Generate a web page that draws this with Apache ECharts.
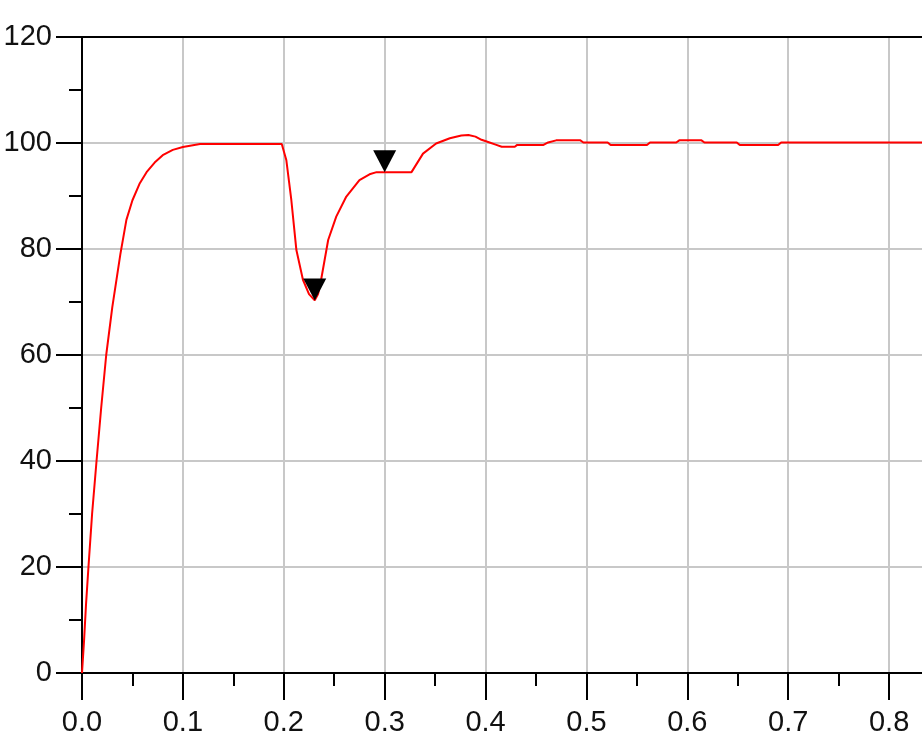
<!DOCTYPE html>
<html><head><meta charset="utf-8">
<script src="https://cdn.jsdelivr.net/npm/echarts@6/dist/echarts.min.js"></script>
<style>html,body{margin:0;padding:0;background:#fff}#c{width:922px;height:742px}</style>
</head><body><div id="c"></div>
<script>
// response curve (time in s, value)
const timeValues = [0, 0.002, 0.004, 0.0064, 0.010, 0.0144, 0.019, 0.024, 0.030, 0.038, 0.044, 0.050, 0.057, 0.064, 0.072, 0.080, 0.090, 0.100, 0.117, 0.198,
  0.2025, 0.2075, 0.2125, 0.219, 0.225, 0.2307, 0.234, 0.237, 0.244, 0.252, 0.262, 0.275, 0.285, 0.292, 0.3266,
  0.338, 0.351, 0.3646, 0.376, 0.383, 0.390, 0.396, 0.404, 0.410, 0.416, 0.429, 0.431, 0.457, 0.462, 0.470, 0.494, 0.497,
  0.521, 0.524, 0.560, 0.563, 0.589, 0.592, 0.614, 0.617, 0.649, 0.652, 0.690, 0.693, 0.90];
const responseValues = [0, 6, 13, 20, 30, 40, 50, 60, 69, 79, 85.5, 89.2, 92.3, 94.5, 96.3, 97.7, 98.7, 99.25, 99.8, 99.8,
  96.8, 89.2, 79.8, 74.2, 71.5, 70.3, 71.5, 74.2, 81.7, 86.1, 89.9, 93.0, 94.1, 94.5, 94.5,
  98.0, 99.9, 100.9, 101.4, 101.5, 101.2, 100.6, 100.1, 99.7, 99.3, 99.3, 99.6, 99.6, 100.1, 100.5, 100.5, 100.1,
  100.1, 99.6, 99.6, 100.1, 100.1, 100.5, 100.5, 100.1, 100.1, 99.6, 99.6, 100.1, 100.1];
// marker points
const markerTimes = [0.2307, 0.300];
const markerValues = [70.3, 94.5];
// axis tick settings
const xTickStep = 0.1;
const yTickStep = 20;

const lineData = timeValues.map((t, i) => [t, responseValues[i]]);
const markerData = markerTimes.map((t, i) => [t, markerValues[i]]);

const labelFont = { fontFamily: 'Liberation Sans', fontSize: 29, color: '#111' };
const chart = echarts.init(document.getElementById('c'), null, { renderer: 'canvas' });
chart.setOption({
  animation: false,
  backgroundColor: '#fff',
  grid: { left: 82, top: 37, width: 908, height: 636, containLabel: false, outerBoundsMode: 'none' },
  xAxis: [{
    type: 'value', min: 0, max: 0.9, interval: xTickStep,
    axisLine: { show: true, onZero: false, lineStyle: { color: '#000', width: 2 } },
    axisTick: { show: true, length: 27, lineStyle: { color: '#000', width: 2 } },
    minorTick: { show: true, splitNumber: 2, length: 13, lineStyle: { color: '#000', width: 2 } },
    splitLine: { show: true, lineStyle: { color: '#c8c8c8', width: 2 } },
    axisLabel: Object.assign({ margin: 35, formatter: v => {
      const k = Math.round(v / xTickStep);
      return Math.abs(v / xTickStep - k) < 1e-6 ? (k * xTickStep).toFixed(1) : '';
    } }, labelFont)
  }, {
    type: 'value', position: 'top', min: 0, max: 0.9,
    axisLine: { show: true, onZero: false, lineStyle: { color: '#000', width: 2 } },
    axisTick: { show: false }, axisLabel: { show: false }, splitLine: { show: false }
  }],
  yAxis: {
    type: 'value', min: 0, max: 120, interval: yTickStep,
    axisLine: { show: true, onZero: false, lineStyle: { color: '#000', width: 2 } },
    axisTick: { show: true, length: 26, lineStyle: { color: '#000', width: 2 } },
    minorTick: { show: true, splitNumber: 2, length: 13, lineStyle: { color: '#000', width: 2 } },
    splitLine: { show: true, lineStyle: { color: '#c8c8c8', width: 2 } },
    axisLabel: Object.assign({ margin: 30 }, labelFont)
  },
  series: [{
    type: 'line', data: lineData, showSymbol: false, smooth: false,
    lineStyle: { color: '#ff0000', width: 2 }, z: 3
  }, {
    type: 'scatter', data: markerData,
    symbol: 'path://M0,0 L20,0 L10,20 Z', symbolSize: [23, 22], symbolOffset: [0, -11],
    itemStyle: { color: '#000', opacity: 1 }, z: 4
  }]
});
</script></body></html>
